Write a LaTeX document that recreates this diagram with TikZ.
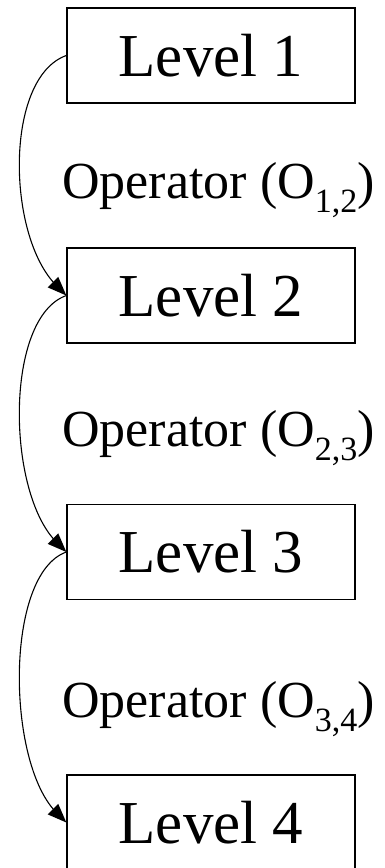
\documentclass[tikz,border=0pt]{standalone}
\usepackage{fontspec}
\setmainfont{Liberation Serif}
\newcommand{\opsub}[1]{\raisebox{-0.28em}{\fontsize{34}{34}\selectfont #1}}
\tikzset{
  levelbox/.style={draw, line width=1.3pt, minimum width=288pt, minimum height=95pt,
    inner sep=0pt, font=\fontsize{61}{61}\selectfont},
  oplabel/.style={inner sep=0pt, anchor=base west, font=\fontsize{52}{52}\selectfont},
  flow/.style={line width=1.1pt, shorten >=14pt}
}
% filled triangular head at the end of a transition, pointing down-right
\newcommand{\flowhead}[1]{%
  \fill ([shift={(156.5:20.4pt)}]#1) -- (#1) -- ([shift={(113.5:20.4pt)}]#1) -- cycle;}
\begin{document}
\begin{tikzpicture}[x=1pt,y=1pt]
  \useasboundingbox (0,0) rectangle (385,-868);
  % the four levels
  \node[levelbox] (l1) at (211,-55.5) {Level 1};
  \node[levelbox] (l2) at (211,-295.5) {Level 2};
  \node[levelbox] (l3) at (211,-552) {Level 3};
  \node[levelbox] (l4) at (211,-822.5) {Level 4};
  % operator labels between levels
  \node[oplabel] (o12) at (62,-198) {Operator (O\opsub{1,2})};
  \node[oplabel] (o23) at (62,-446) {Operator (O\opsub{2,3})};
  \node[oplabel] (o34) at (62,-717) {Operator (O\opsub{3,4})};
  % transitions
  \draw[flow] (l1.west) .. controls +(-62,-22) and +(-60,60) .. (l2.west);
  \draw[flow] (l2.west) .. controls +(-62,-22) and +(-60,60) .. (l3.west);
  \draw[flow] (l3.west) .. controls +(-62,-22) and +(-60,60) .. (l4.west);
  \flowhead{l2.west}
  \flowhead{l3.west}
  \flowhead{l4.west}
\end{tikzpicture}
\end{document}
